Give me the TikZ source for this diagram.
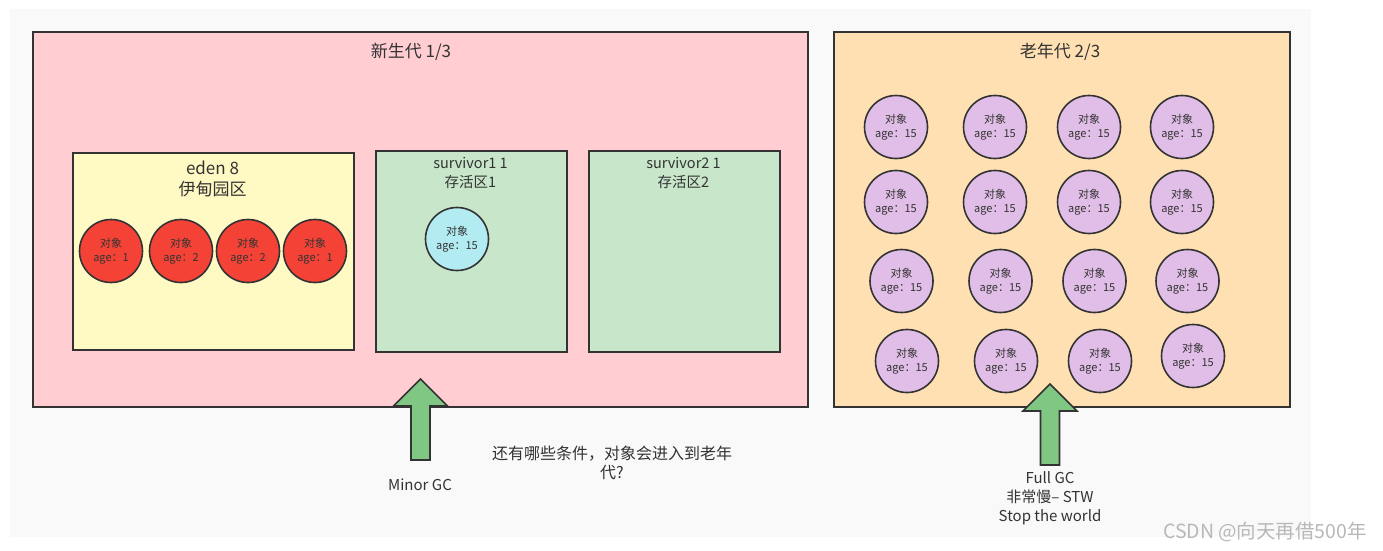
\documentclass[tikz,border=0pt]{standalone}
\usepackage{fontspec}
\setmainfont{Noto Sans CJK SC}

\definecolor{bgc}{HTML}{F9F9F9}
\definecolor{linec}{HTML}{333333}
\definecolor{textc}{HTML}{333333}
\definecolor{youngc}{HTML}{FFCDD2}
\definecolor{oldc}{HTML}{FFE0B2}
\definecolor{edenc}{HTML}{FFF9C4}
\definecolor{survc}{HTML}{C8E6C9}
\definecolor{redobj}{HTML}{F44336}
\definecolor{blueobj}{HTML}{B2EBF2}
\definecolor{purpleobj}{HTML}{E1BEE7}
\definecolor{arrowc}{HTML}{81C784}
\definecolor{markc}{HTML}{B8B8B8}

\begin{document}
\begin{tikzpicture}[x=1pt, y=-1pt, line width=1.6pt,
	area/.style={draw=linec, anchor=north west, inner sep=0pt},
	obj/.style={circle, draw=linec, minimum size=63pt, inner sep=0pt, align=center,
		text=textc, font=\fontsize{11}{14}\selectfont},
	title/.style={text=textc, align=center, font=\fontsize{17}{21}\selectfont},
	subtitle/.style={text=textc, align=center, font=\fontsize{14.5}{19}\selectfont},
	note/.style={text=textc, align=center, font=\fontsize{15}{19}\selectfont},
	gcarrow/.style={draw=linec, fill=arrowc, line join=miter}]
	\useasboundingbox (0,0) rectangle (1383,550);
	\fill[bgc] (10,9) rectangle (1311,537);
	% the two generations
	\node[area, fill=youngc, minimum width=775, minimum height=375] (young) at (32,31) {};
	\node[area, fill=oldc, minimum width=456, minimum height=375] (old) at (833,31) {};
	\node[title] (youngtitle) at (411,52) {新生代 1/3};
	\node[title] (oldtitle) at (1060,52) {老年代 2/3};
	% eden and survivors
	\node[area, fill=edenc, minimum width=281, minimum height=197] (eden) at (72,152) {};
	\node[area, fill=survc, minimum width=191, minimum height=201] (surv1) at (375,150) {};
	\node[area, fill=survc, minimum width=191, minimum height=201] (surv2) at (588,150) {};
	\node[title] (edentitle) at (212.5,178.5) {eden 8\\伊甸园区};
	\node[subtitle] (surv1title) at (470.5,172.5) {survivor1 1\\存活区1};
	\node[subtitle] (surv2title) at (683.5,172.5) {survivor2 1\\存活区2};
	% objects
	\foreach \i/\x/\age in {1/111/1, 2/181/2, 3/248/2, 4/315/1}
		\node[obj, fill=redobj] (eden-\i) at (\x,251) {对象\\age：\age};
	\node[obj, fill=blueobj] (surv1-obj) at (457,239) {对象\\age：15};
	\foreach \r/\y/\dx in {1/127/0, 2/202/0, 3/281/5.5, 4/361/11}
		\foreach \c/\x in {1/896, 2/995, 3/1089, 4/1182} {
			\pgfmathsetmacro\oy{\y-5*(\r==4)*(\c==4)}
			\node[obj, fill=purpleobj] (old-\r-\c) at (\x+\dx,\oy) {对象\\age：15};
		}
	% gc arrows
	\coordinate (minortip) at (420.5,379);
	\coordinate (fulltip) at (1050,384);
	\foreach \t in {minortip, fulltip}
		\draw[gcarrow] (\t) -- ++(27,27) -- ++(-17.5,0) -- ++(0,54) -- ++(-19,0)
			-- ++(0,-54) -- ++(-17.5,0) -- cycle;
	\node[note] (minorlabel) at (420,485) {Minor GC};
	\node[note, font=\fontsize{16}{19}\selectfont] (question) at (612,462.5) {还有哪些条件，对象会进入到老年\\代?};
	\node[note] (fulllabel) at (1050,498) {Full GC\\非常慢– STW\\Stop the world};
	\node[text=markc, font=\fontsize{19.5}{22}\selectfont] (mark) at (1265,532) {CSDN @向天再借500年};
\end{tikzpicture}
\end{document}
